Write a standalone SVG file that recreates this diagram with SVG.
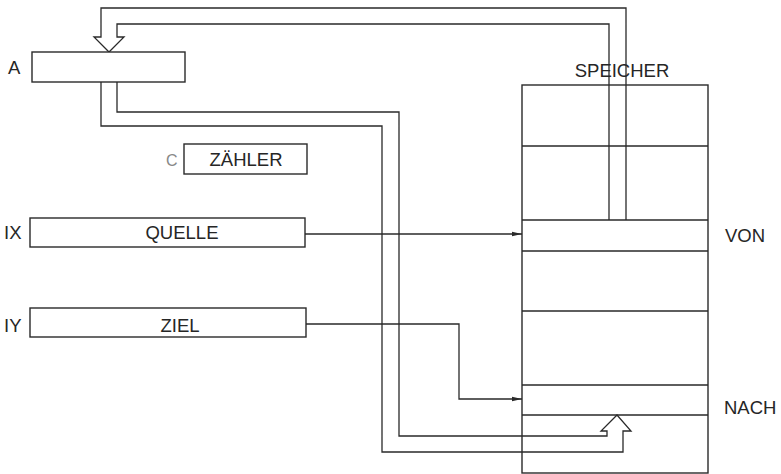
<svg xmlns="http://www.w3.org/2000/svg" width="781" height="474" viewBox="0 0 781 474">
<defs>
<marker id="ah" markerWidth="10" markerHeight="6" refX="10" refY="3" orient="auto" markerUnits="userSpaceOnUse">
<path d="M0,0.8 L10,3 L0,5.2 Z" fill="#2a2a2a"/>
</marker>
</defs>
<style>
.box{fill:#fff;stroke:#2a2a2a;stroke-width:1.4}
.ln{fill:none;stroke:#2a2a2a;stroke-width:1.3}
.t{font-family:"Liberation Sans",Arial,sans-serif;font-size:18.5px;fill:#262626}
.c{text-anchor:middle}
</style>
<rect width="781" height="474" fill="#fff"/>
<g id="speicher">
<rect class="box" x="522" y="85" width="186" height="388"/>
<path class="ln" d="M522,146H708M522,220H708M522,251H708M522,311H708M522,385H708M522,415H708"/>
<text class="t c" x="622" y="77">SPEICHER</text>
<text class="t" x="725" y="242">VON</text>
<text class="t" x="724" y="414">NACH</text>
</g>
<g id="connectors">
<path class="ln" d="M626,220V8H101V37H94L109,52L124,37H117V24H609V220"/>
<path class="ln" d="M101,82V126H382V452H623V431H631L617,415L601,431H607V436H399V112H117V82"/>
<path class="ln" d="M305,234H522" marker-end="url(#ah)"/>
<path class="ln" d="M306,324H459V399H522" marker-end="url(#ah)"/>
</g>
<g id="regA">
<rect class="box" x="32" y="52" width="153" height="30"/>
<text class="t" x="8" y="74">A</text>
</g>
<g id="regC">
<rect class="box" x="184" y="144" width="123" height="30"/>
<text class="t c" x="246" y="166">ZÄHLER</text>
<text class="t" x="166" y="166" style="fill:#888;font-size:16px">C</text>
</g>
<g id="regIX">
<rect class="box" x="30" y="218" width="275" height="29"/>
<text class="t c" x="182" y="239">QUELLE</text>
<text class="t" x="4" y="239">IX</text>
</g>
<g id="regIY">
<rect class="box" x="30" y="308" width="276" height="29"/>
<text class="t c" x="180" y="332">ZIEL</text>
<text class="t" x="4" y="332">IY</text>
</g>
</svg>
